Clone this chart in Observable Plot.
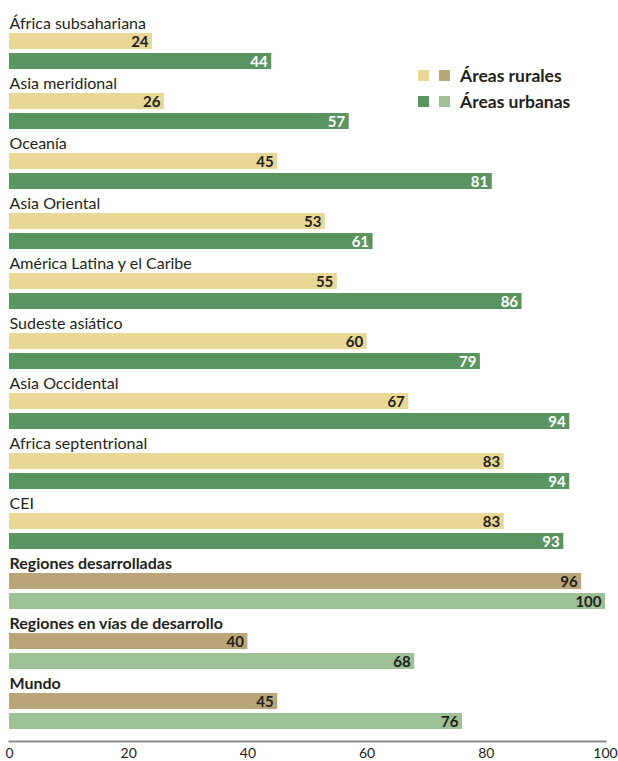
<!DOCTYPE html>
<html>
<head>
<meta charset="utf-8">
<script src="https://cdn.jsdelivr.net/npm/d3@7"></script>
<script src="https://cdn.jsdelivr.net/npm/@observablehq/plot@0.6"></script>
<style>
  body { margin: 0; background: #fff; }
  #wrap { position: relative; width: 618px; height: 761px; font-family: Lato, "Open Sans", sans-serif; }
  #legend { position: absolute; left: 418px; top: 62px; font: bold 17.5px Lato, sans-serif; color: #231f20; }
  .row { display: flex; align-items: center; height: 26px; }
  .sw { width: 11px; height: 11px; margin-right: 10px; }
</style>
</head>
<body>
<div id="wrap"><div id="legend"></div></div>
<script>
const regions = ["África subsahariana", "Asia meridional", "Oceanía", "Asia Oriental", "América Latina y el Caribe", "Sudeste asiático", "Asia Occidental", "Africa septentrional", "CEI", "Regiones desarrolladas", "Regiones en vías de desarrollo", "Mundo"];
const rural = [24, 26, 45, 53, 55, 60, 67, 83, 83, 96, 40, 45];
const urban = [44, 57, 81, 61, 86, 79, 94, 94, 93, 100, 68, 76];
const aggregates = ["Regiones desarrolladas", "Regiones en vías de desarrollo", "Mundo"];
const xTicks = [0, 20, 40, 60, 80, 100];
const legendLabels = ["Áreas rurales", "Áreas urbanas"];
const colors = {
  rural: "#e8d795", ruralAgg: "#b9a578",
  urban: "#5a9461", urbanAgg: "#9dc094"
};

const labelRows = [];
const barRows = [];
const yDomain = [];
regions.forEach((r, i) => {
  const agg = aggregates.includes(r);
  labelRows.push({key: r + "|label", region: r, agg});
  barRows.push({key: r + "|rural", region: r, agg, type: "rural", value: rural[i]});
  barRows.push({key: r + "|urban", region: r, agg, type: "urban", value: urban[i]});
  yDomain.push(r + "|label", r + "|rural", r + "|urban");
});
const fillOf = d => colors[d.type + (d.agg ? "Agg" : "")];
const textFill = d => (d.type === "urban" && !d.agg) ? "#ffffff" : "#231f20";

const labelOpts = {y: "key", frameAnchor: "left", text: "region", textAnchor: "start", lineAnchor: "bottom", dy: 7, fontSize: 16, fill: "#231f20"};

const chart = Plot.plot({
  width: 618,
  height: 761,
  marginLeft: 9,
  marginRight: 13,
  marginTop: 1,
  marginBottom: 20,
  style: {fontFamily: "Lato, 'Open Sans', sans-serif", color: "#231f20", background: "transparent"},
  x: {domain: [0, 100], label: null},
  y: {domain: yDomain, type: "band", paddingInner: 0.2, paddingOuter: 0.6, align: 0.5, axis: null},
  color: {type: "identity"},
  marks: [
    Plot.barX(barRows, {x: "value", y: "key", fill: fillOf}),
    Plot.text(barRows, {x: "value", y: "key", text: d => String(d.value), textAnchor: "end", dx: -4, dy: 1,
      fill: textFill, fontWeight: "bold", fontSize: 15}),
    Plot.text(labelRows.filter(d => !d.agg), {...labelOpts, fontWeight: "normal"}),
    Plot.text(labelRows.filter(d => d.agg), {...labelOpts, fontWeight: "bold"}),
    Plot.frame({anchor: "bottom", stroke: "#8c8c8c", strokeWidth: 2}),
    Plot.axisX({ticks: xTicks, tickSize: 0, tickPadding: 7, fontSize: 14, label: null, tickFormat: d => d, fill: "#231f20"})
  ]
});
document.getElementById("wrap").prepend(chart);

const legend = d3.select("#legend");
legendLabels.forEach((lab, i) => {
  const row = legend.append("div").attr("class", "row");
  const pair = i === 0 ? [colors.rural, colors.ruralAgg] : [colors.urban, colors.urbanAgg];
  pair.forEach(c => row.append("div").attr("class", "sw").style("background", c));
  row.append("span").text(lab);
});
</script>
</body>
</html>
